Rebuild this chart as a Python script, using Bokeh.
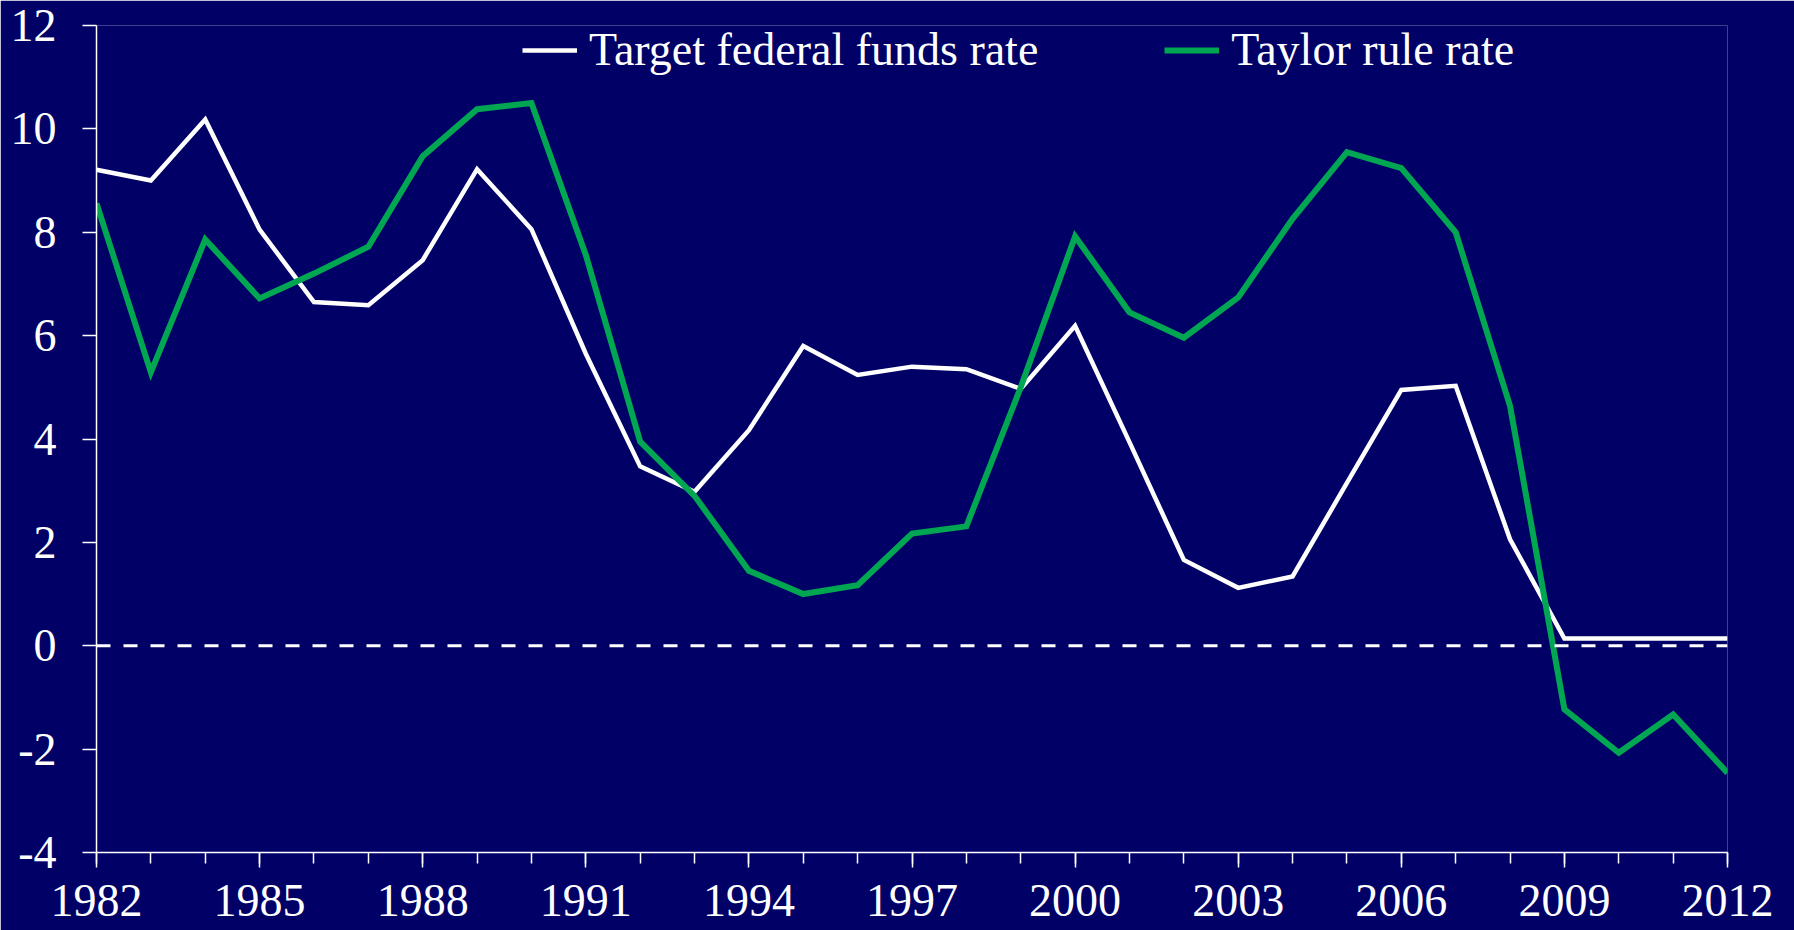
from bokeh.plotting import figure
from bokeh.models import FixedTicker, Span, Legend, LegendItem, Range1d
from bokeh.embed import file_html
from bokeh.resources import INLINE

years = list(range(1982, 2013))
target_rate = [9.21, 9.00, 10.18, 8.05, 6.65, 6.59, 7.46, 9.22, 8.06, 5.65,
               3.47, 2.98, 4.17, 5.80, 5.24, 5.40, 5.35, 4.97, 6.19, 3.94,
               1.66, 1.12, 1.34, 3.15, 4.95, 5.03, 2.06, 0.14, 0.14, 0.14, 0.14]
taylor_rate = [8.56, 5.29, 7.86, 6.72, 7.20, 7.72, 9.47, 10.38, 10.50, 7.56,
               3.95, 2.90, 1.45, 1.00, 1.17, 2.17, 2.31, 5.00, 7.92, 6.45,
               5.96, 6.74, 8.26, 9.55, 9.24, 8.00, 4.64, -1.23, -2.07, -1.33, -2.46]
x_ticks = list(range(1982, 2013, 3))
y_ticks = [-4, -2, 0, 2, 4, 6, 8, 10, 12]
y_labels = {v: str(v) for v in y_ticks}
series_names = ["Target federal funds rate", "Taylor rule rate"]

BG = "#000066"
GREEN = "#00A651"
FONT = "Liberation Serif"

p = figure(width=1794, height=930, output_backend="svg", toolbar_location=None,
           x_range=Range1d(1982, 2012), y_range=Range1d(-4, 12),
           min_border_left=96, min_border_right=67, min_border_top=25, min_border_bottom=78)
p.background_fill_color = BG
p.border_fill_color = BG
p.outline_line_color = None
p.outline_line_alpha = 0
p.xgrid.visible = False
p.ygrid.visible = False

zero = Span(location=0, dimension="width", line_color="white", line_width=3, line_dash="14 13")
p.add_layout(zero)

r1 = p.line(years, target_rate, line_color="white", line_width=4.5, line_join="miter")
r2 = p.line(years, taylor_rate, line_color=GREEN, line_width=6, line_join="miter")

xa = p.xaxis[0]
xa.ticker = FixedTicker(ticks=x_ticks, minor_ticks=years)
xa.axis_line_color = "white"
xa.axis_line_width = 1.5
xa.major_tick_line_color = "white"
xa.major_tick_line_width = 1.5
xa.minor_tick_line_color = "white"
xa.minor_tick_line_width = 1.5
xa.major_tick_in = 0
xa.major_tick_out = 15
xa.minor_tick_in = 0
xa.minor_tick_out = 11
xa.major_label_standoff = 17
xa.major_label_text_color = "white"
xa.major_label_text_font = FONT
xa.major_label_text_font_size = "46px"

ya = p.yaxis[0]
ya.ticker = FixedTicker(ticks=y_ticks, minor_ticks=[])
ya.major_label_overrides = y_labels
ya.axis_line_color = "white"
ya.axis_line_width = 1.5
ya.major_tick_line_color = "white"
ya.major_tick_line_width = 1.5
ya.major_tick_in = 0
ya.major_tick_out = 14
ya.minor_tick_line_color = None
ya.major_label_standoff = 26
ya.major_label_text_color = "white"
ya.major_label_text_font = FONT
ya.major_label_text_font_size = "46px"

legend = Legend(items=[LegendItem(label=series_names[0], renderers=[r1]),
                       LegendItem(label=series_names[1], renderers=[r2])],
                orientation="horizontal", location=(426, 776),
                label_text_font=FONT, label_text_font_size="46px", label_text_color="white",
                glyph_width=55, label_standoff=12, spacing=126, padding=0, margin=0,
                background_fill_alpha=0, border_line_alpha=0)
p.add_layout(legend, "center")

open("out.html", "w").write(file_html(p, INLINE))
